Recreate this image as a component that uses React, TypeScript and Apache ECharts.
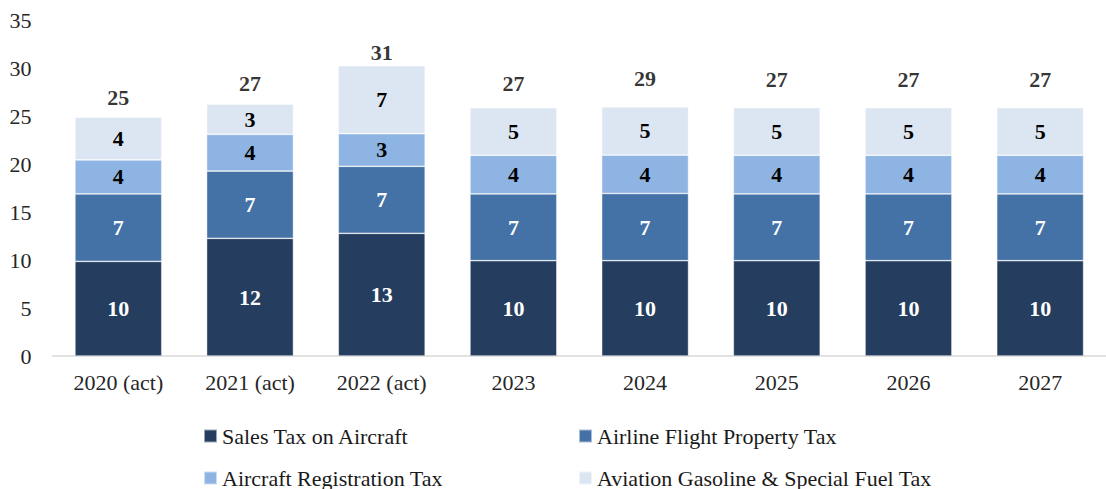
import React, { useEffect, useRef } from "react";
import * as echarts from "echarts";

const categories = ["2020 (act)", "2021 (act)", "2022 (act)", "2023", "2024", "2025", "2026", "2027"];
const salesTax = [9.86, 12.26, 12.78, 9.93, 9.93, 9.93, 9.93, 9.93];
const flightProperty = [7.02, 7.01, 6.98, 6.95, 7.0, 6.95, 6.95, 6.95];
const registration = [3.54, 3.82, 3.4, 4.03, 4.0, 4.03, 4.03, 4.03];
const fuelTax = [4.45, 3.16, 7.08, 4.96, 5.03, 4.97, 4.97, 4.97];
const totalLabels = [25, 27, 31, 27, 29, 27, 27, 27];
const yTicks = { min: 0, max: 35, interval: 5 };

// label lift above each stack (style only)
const totalLabelDistance = [9, 10, 2, 13, 17, 17, 17, 17];

const FONT = "'Liberation Serif', 'DejaVu Serif', serif";

export default function App() {
  const ref = useRef<HTMLDivElement>(null);
  useEffect(() => {
    if (!ref.current) return;
    const chart = echarts.init(ref.current, undefined, { renderer: "svg" });
    const names = ["Sales Tax on Aircraft", "Airline Flight Property Tax", "Aircraft Registration Tax", "Aviation Gasoline & Special Fuel Tax"];
    const colors = ["#253D5E", "#4472A6", "#8EB4E3", "#DCE6F2"];
    const labelColors = ["#ffffff", "#ffffff", "#000000", "#000000"];
    const seriesData = [salesTax, flightProperty, registration, fuelTax];
    const sums = categories.map((_, i) => seriesData.reduce((s, arr) => s + arr[i], 0));

    const barSeries = seriesData.map((d, k) => ({
      name: names[k],
      type: "bar",
      stack: "total",
      barWidth: "66%",
      data: d,
      itemStyle: { color: colors[k], borderColor: "rgba(255,255,255,0.55)", borderWidth: 0.75 },
      label: {
        show: true,
        position: "inside",
        color: labelColors[k],
        fontFamily: FONT,
        fontSize: 22,
        fontWeight: "bold",
        formatter: (p: any) => String(Math.round(p.value)),
      },
      emphasis: { disabled: true },
    }));

    const legendCommon = {
      orient: "vertical",
      top: 425,
      height: 64,
      padding: 0,
      itemWidth: 13,
      itemHeight: 13,
      itemGap: 20,
      icon: "rect",
      textStyle: { color: "#1a1a1a", fontSize: 22, fontFamily: FONT },
      selectedMode: false,
    };

    chart.setOption({
      animation: false,
      textStyle: { fontFamily: FONT },
      grid: { left: 52.5, right: -12.5, top: 20, bottom: 133, containLabel: false },
      xAxis: {
        type: "category",
        data: categories,
        axisLine: { show: true, lineStyle: { color: "#D9D9D9", width: 1.5 } },
        axisTick: { show: false },
        axisLabel: { color: "#262626", fontSize: 22, fontFamily: FONT, margin: 15 },
      },
      yAxis: {
        type: "value",
        min: yTicks.min,
        max: yTicks.max,
        interval: yTicks.interval,
        axisLine: { show: false },
        axisTick: { show: false },
        splitLine: { show: false },
        axisLabel: { color: "#262626", fontSize: 22, fontFamily: FONT, margin: 21 },
      },
      legend: [
        { ...legendCommon, left: 203, data: [names[0], names[2]] },
        { ...legendCommon, left: 578, data: [names[1], names[3]] },
      ],
      series: [
        ...barSeries,
        {
          name: "Total",
          type: "scatter",
          symbolSize: 0,
          silent: true,
          data: sums.map((v, i) => ({
            value: v,
            label: { distance: totalLabelDistance[i] },
          })),
          label: {
            show: true,
            position: "top",
            color: "#000",
            fontFamily: FONT,
            fontSize: 22,
            fontWeight: "bold",
            formatter: (p: any) => String(totalLabels[p.dataIndex]),
          },
          z: 5,
        },
      ],
    });
    return () => chart.dispose();
  }, []);
  return <div ref={ref} style={{ position: "absolute", left: 0, top: 0, width: 1106, height: 489 }} />;
}
